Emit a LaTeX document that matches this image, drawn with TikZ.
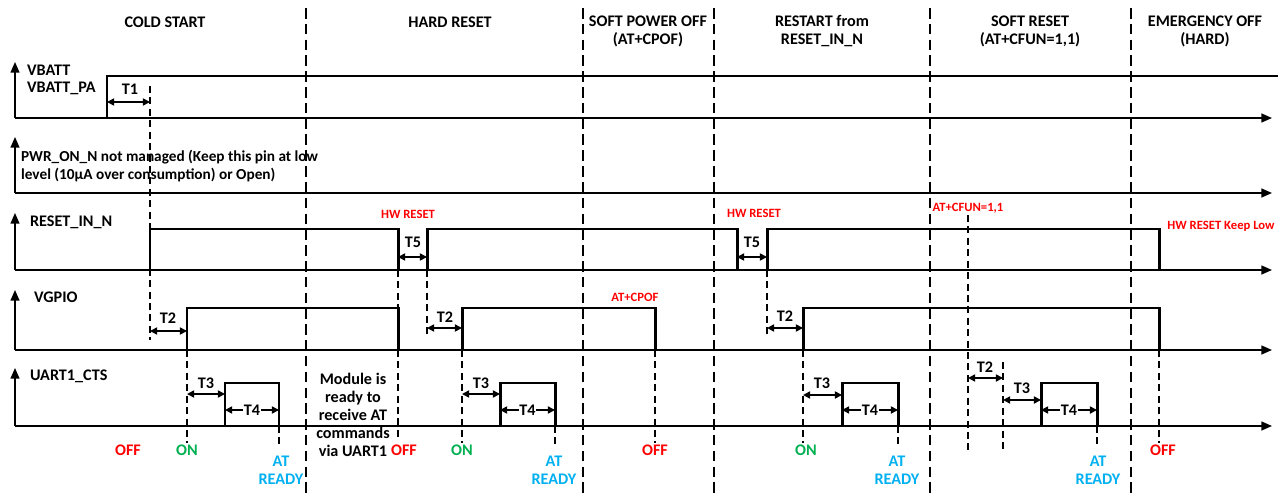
\documentclass[tikz,border=0pt]{standalone}
\usepackage{fontspec}
\setmainfont{Carlito}
\usetikzlibrary{arrows.meta}
\definecolor{offred}{RGB}{255,0,0}
\definecolor{ongreen}{RGB}{0,176,80}
\definecolor{readyblue}{RGB}{0,176,240}

\begin{document}
\begin{tikzpicture}[x=0.02cm, y=-0.02cm,
  every node/.style={font=\bfseries\fontsize{9.2}{10.2}\selectfont, inner sep=1pt},
  sig/.style={line width=1.7pt, line join=miter},
  axis/.style={line width=0.9pt, -{Triangle[length=6pt,width=5pt]}},
  section/.style={line width=1.6pt, dash pattern=on 6pt off 3pt},
  guide/.style={line width=0.8pt, dash pattern=on 4pt off 2.5pt},
  span/.style={line width=0.9pt, {Triangle[length=4pt,width=4pt]}-{Triangle[length=4pt,width=4pt]}},
  pin/.style={anchor=west, align=left},
  head/.style={align=center},
  note/.style={text=offred, font=\bfseries\fontsize{7.2}{8}\selectfont},
  off/.style={text=offred},
  on/.style={text=ongreen},
  ready/.style={text=readyblue, align=center}
]
  \useasboundingbox (0,0) rectangle (1280,493);

  % section headers
  \node[head] (cold) at (165,22) {COLD START};
  \node[head] (hard) at (450,22) {HARD RESET};
  \node[head] (cpof) at (648,31) {SOFT POWER OFF\\(AT+CPOF)};
  \node[head] (restart) at (822,31) {RESTART from\\RESET\_IN\_N};
  \node[head] (cfun) at (1030,31) {SOFT RESET\\(AT+CFUN=1,1)};
  \node[head] (emerg) at (1205,31) {EMERGENCY OFF\\(HARD)};

  % axes
  \foreach \base/\top in {118/62, 193/137, 270/213, 350/290, 426/368} {
    \draw[axis] (15,\base) -- (15,\top);
    \draw[axis] (15,\base) -- (1272,\base);
  }

  % pin names
  \node[pin] (vbatt) at (25,70) {VBATT};
  \node[pin] (vbattpa) at (25,88) {VBATT\_PA};
  \node[pin, font=\bfseries\fontsize{8.7}{10.2}\selectfont] (pwron) at (19,166) {PWR\_ON\_N not managed (Keep this pin at low\\level (10µA over consumption) or Open)};
  \node[pin] (reset) at (28,222) {RESET\_IN\_N};
  \node[pin] (vgpio) at (32,297) {VGPIO};
  \node[pin] (cts) at (28,376) {UART1\_CTS};

  % signals
  \draw[sig] (15,118) -- (107,118) -- (107,76) -- (1278,76);
  \draw[sig] (15,270) -- (150,270) -- (150,229) -- (398,229) -- (398,270) -- (427,270)
    -- (427,229) -- (737,229) -- (737,270) -- (767,270) -- (767,229) -- (1159,229) -- (1159,270);
  \draw[sig] (15,350) -- (187,350) -- (187,308) -- (398,308) -- (398,350) -- (462,350)
    -- (462,308) -- (655,308) -- (655,350) -- (803,350) -- (803,308) -- (1159,308) -- (1159,350);
  \draw[sig] (15,426) -- (225,426) -- (225,383) -- (279,383) -- (279,426) -- (500,426)
    -- (500,383) -- (555,383) -- (555,426) -- (842,426) -- (842,383) -- (898,383) -- (898,426)
    -- (1041,426) -- (1041,383) -- (1097,383) -- (1097,426);

  % section borders
  \foreach \x in {306, 583, 714, 930, 1131}
    \draw[section] (\x,8) -- (\x,493);

  % guide lines
  \foreach \x/\a/\b in {150/86/340, 398/270/440, 427/270/335, 767/270/335,
      187/350/443, 462/350/443, 655/350/443, 803/350/443, 1159/350/443,
      279/426/448, 555/426/448, 898/426/448, 1097/426/448,
      968/215/452, 1003/362/452}
    \draw[guide] (\x,\a) -- (\x,\b);

  % timings
  \draw[span] (107,102) -- (150,102);
  \node (t1) at (130,89) {T1};
  \draw[span] (398,257) -- (427,257);
  \node (t5a) at (413,242) {T5};
  \draw[span] (737,257) -- (767,257);
  \node (t5b) at (752,242) {T5};
  \draw[span] (150,331) -- (187,331);
  \node (t2a) at (168,318) {T2};
  \draw[span] (427,328) -- (462,328);
  \node (t2b) at (445,317) {T2};
  \draw[span] (767,328) -- (803,328);
  \node (t2c) at (785,316) {T2};
  \draw[span] (968,378) -- (1003,378);
  \node (t2d) at (985,367) {T2};
  \draw[span] (187,394) -- (225,394);
  \node (t3a) at (206,383) {T3};
  \draw[span] (462,394) -- (500,394);
  \node (t3b) at (481,383) {T3};
  \draw[span] (803,395) -- (842,395);
  \node (t3c) at (822,383) {T3};
  \draw[span] (1003,400) -- (1041,400);
  \node (t3d) at (1022,388) {T3};
  \foreach \a/\b in {225/279, 500/555, 842/898, 1041/1097}
    \draw[span] (\a,410) -- node[fill=white, inner sep=0.5pt] {T4} (\b,410);

  % events
  \node[note] (hwa) at (408,214) {HW RESET};
  \node[note] (hwb) at (754,213) {HW RESET};
  \node[note] (cpofnote) at (635,297) {AT+CPOF};
  \node[note] (cfunnote) at (968,208) {AT+CFUN=1,1};
  \node[note] (keeplow) at (1221,226) {HW RESET Keep Low};

  % states
  \node[off] (off1) at (128,450) {OFF};
  \node[on] (on1) at (187,450) {ON};
  \node[ready] (ready1) at (281,470) {AT\\READY};
  \node[head] (module) at (353,415) {Module is\\ready to\\receive AT\\commands\\via UART1};
  \node[off] (off2) at (404,450) {OFF};
  \node[on] (on2) at (462,450) {ON};
  \node[ready] (ready2) at (554,470) {AT\\READY};
  \node[off] (off3) at (655,450) {OFF};
  \node[on] (on3) at (806,450) {ON};
  \node[ready] (ready3) at (897,470) {AT\\READY};
  \node[ready] (ready4) at (1098,470) {AT\\READY};
  \node[off] (off4) at (1163,450) {OFF};
\end{tikzpicture}
\end{document}
